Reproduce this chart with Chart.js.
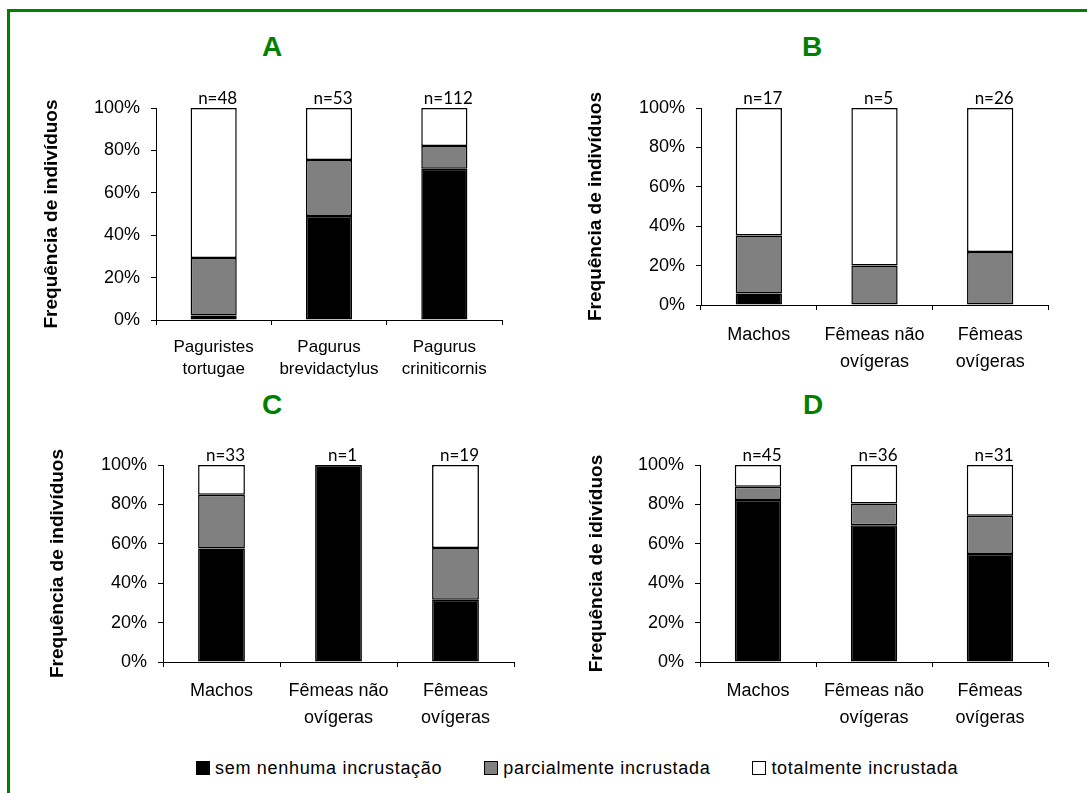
<!DOCTYPE html>
<html>
<head>
<meta charset="utf-8">
<script src="https://cdn.jsdelivr.net/npm/chart.js@4.4.0/dist/chart.umd.min.js"></script>
<style>
  body { margin: 0; background: #fff; overflow: hidden; width: 1087px; height: 793px; position: relative;
         font-family: "Liberation Sans", Arial, sans-serif; }
  #moldura { position: absolute; left: 7px; top: 9px; width: 1200px; height: 900px;
             border-left: 3px solid #008000; border-top: 3px solid #008000; }
  canvas { position: absolute; }
  .letra { position: absolute; width: 80px; margin-left: -40px; text-align: center; color: #008000;
           font: bold 28px "Liberation Sans", Arial, sans-serif; line-height: 28px; }
  #legenda { position: absolute; left: 196px; top: 757px; display: flex; align-items: center;
             font-size: 18px; line-height: 22px; color: #000; letter-spacing: 0.7px; }
  .item { display: flex; align-items: center; margin-right: 42px; }
  .caixa { width: 12px; height: 12px; border: 1px solid #000; margin-right: 5px; }
</style>
</head>
<body>
<div id="moldura"></div>

<div class="letra" style="left:272px; top:33px;">A</div>
<div class="letra" style="left:812px; top:33px;">B</div>
<div class="letra" style="left:272px; top:391px;">C</div>
<div class="letra" style="left:813px; top:391px;">D</div>

<canvas id="grafA" width="540" height="390" style="left:0; top:0;"></canvas>
<canvas id="grafB" width="547" height="390" style="left:540px; top:0;"></canvas>
<canvas id="grafC" width="540" height="350" style="left:0; top:390px;"></canvas>
<canvas id="grafD" width="547" height="350" style="left:540px; top:390px;"></canvas>

<div id="legenda"></div>

<script>
// series (legend) and colours
const seriesNames = ["sem nenhuma incrustação", "parcialmente incrustada", "totalmente incrustada"];
const seriesColors = ["#000000", "#808080", "#ffffff"];
const yTickValues = [0, 20, 40, 60, 80, 100];

// A - species
const catsA = [["Paguristes", "tortugae"], ["Pagurus", "brevidactylus"], ["Pagurus", "criniticornis"]];
const semA = [2.1, 49.1, 71.4];
const parcA = [27.1, 26.4, 10.7];
const totA = [70.8, 24.5, 17.9];
const nA = [48, 53, 112];

// B, C, D - sex / condition
const catsSexo = ["Machos", ["Fêmeas não", "ovígeras"], ["Fêmeas", "ovígeras"]];

const semB = [5.9, 0, 0];
const parcB = [29.4, 20, 26.9];
const totB = [64.7, 80, 73.1];
const nB = [17, 5, 26];

const semC = [57.6, 100, 31.6];
const parcC = [27.3, 0, 26.3];
const totC = [15.1, 0, 42.1];
const nC = [33, 1, 19];

const semD = [82.2, 69.4, 54.8];
const parcD = [6.7, 11.1, 19.4];
const totD = [11.1, 19.5, 25.8];
const nD = [45, 36, 31];

const yTitle = "Frequência de indivíduos";
const yTitleD = "Frequência de idivíduos";

// n= labels above each bar
const rotuloN = {
  id: "rotuloN",
  afterDatasetsDraw(chart, args, opts) {
    const ctx = chart.ctx;
    const y = chart.scales.y;
    const meta = chart.getDatasetMeta(chart.data.datasets.length - 1);
    ctx.save();
    ctx.font = "17px Lato";
    ctx.fillStyle = "#000";
    ctx.textAlign = "center";
    ctx.textBaseline = "alphabetic";
    opts.ns.forEach((n, i) => {
      ctx.fillText("n=" + n, meta.data[i].x + 4, y.getPixelForValue(100) - 4);
    });
    ctx.restore();
  }
};

function grafico(id, cats, sem, parc, tot, ns, titulo, g) {
  return new Chart(document.getElementById(id), {
    type: "bar",
    data: {
      labels: cats,
      datasets: [sem, parc, tot].map((d, k) => ({
        label: seriesNames[k],
        data: d,
        backgroundColor: seriesColors[k],
        borderColor: "#000",
        borderWidth: 1.5,
        borderSkipped: false,
        barPercentage: 0.4,
        categoryPercentage: 1
      }))
    },
    options: {
      responsive: false,
      animation: false,
      layout: { padding: { left: 0, top: g.top, right: g.right, bottom: 10 } },
      plugins: {
        legend: { display: false },
        tooltip: { enabled: false },
        rotuloN: { ns: ns }
      },
      scales: {
        x: {
          stacked: true,
          offset: true,
          afterFit: s => { s.height = g.xh; },
          grid: { offset: true, drawOnChartArea: false, tickLength: 5, color: "#000", lineWidth: 1 },
          border: { color: "#000", width: 1 },
          ticks: {
            color: "#000", padding: g.xpad, maxRotation: 0, autoSkip: false,
            font: { family: "Liberation Sans", size: g.xfont, lineHeight: g.xlh }
          }
        },
        y: {
          stacked: true,
          min: 0,
          max: 100,
          afterFit: s => { s.width = g.left; },
          afterBuildTicks: s => { s.ticks = yTickValues.map(v => ({ value: v })); },
          grid: { drawOnChartArea: false, tickLength: 5, color: "#000", lineWidth: 1 },
          border: { color: "#000", width: 1 },
          ticks: {
            color: "#000", padding: 11,
            font: { family: "Liberation Sans", size: 18 },
            callback: v => v + "%"
          },
          title: {
            display: true, text: titulo, color: "#000",
            font: { family: "Liberation Sans", size: 19, weight: "bold", lineHeight: 1.2 },
            padding: { top: g.tpad, bottom: 0 }
          }
        }
      }
    },
    plugins: [rotuloN]
  });
}

grafico("grafA", catsA, semA, parcA, totA, nA, yTitle,
  { top: 108, right: 38, left: 156, xh: 60, tpad: 40, xfont: 17, xlh: 1.25, xpad: 12 });
grafico("grafB", catsSexo, semB, parcB, totB, nB, yTitle,
  { top: 108, right: 39, left: 161, xh: 75, tpad: 44, xfont: 18, xlh: 1.48, xpad: 12 });
grafico("grafC", catsSexo, semC, parcC, totC, nC, yTitle,
  { top: 75, right: 26, left: 163, xh: 68, tpad: 46, xfont: 18, xlh: 1.48, xpad: 11 });
grafico("grafD", catsSexo, semD, parcD, totD, nD, yTitleD,
  { top: 75, right: 39, left: 160, xh: 68, tpad: 45, xfont: 18, xlh: 1.48, xpad: 11 });

// shared legend
const leg = document.getElementById("legenda");
seriesNames.forEach((nome, k) => {
  const item = document.createElement("div");
  item.className = "item";
  const caixa = document.createElement("div");
  caixa.className = "caixa";
  caixa.style.background = seriesColors[k];
  const txt = document.createElement("span");
  txt.textContent = nome;
  item.appendChild(caixa);
  item.appendChild(txt);
  leg.appendChild(item);
});
</script>
</body>
</html>
